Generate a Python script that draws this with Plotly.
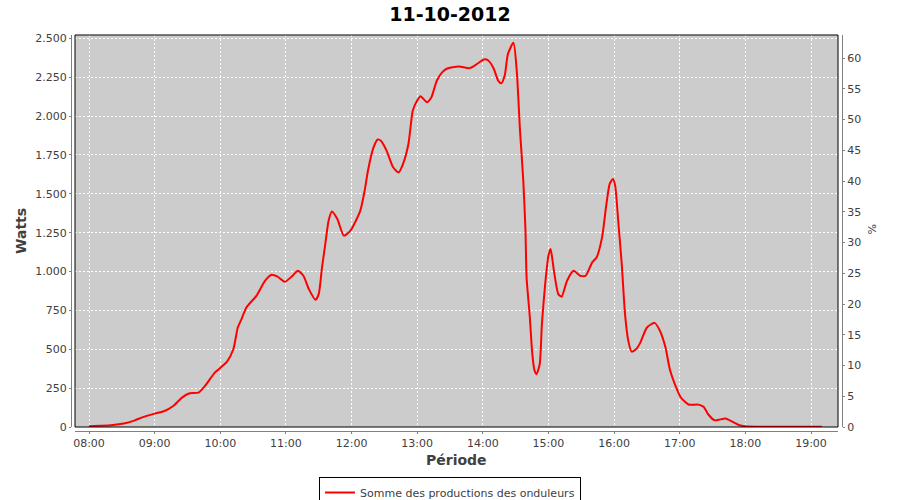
import plotly.graph_objects as go

DAY = "2012-10-11"
times = ["08:00", "08:10", "08:20", "08:33", "08:42", "08:48", "09:00", "09:09", "09:17", "09:25",
         "09:32", "09:40", "09:46", "09:55", "10:06", "10:12", "10:16", "10:19", "10:24", "10:33",
         "10:41", "10:47", "10:52", "10:59", "11:05", "11:11", "11:16", "11:21", "11:27", "11:30",
         "11:33", "11:36", "11:39", "11:42", "11:47", "11:53", "11:59", "12:08", "12:12", "12:15",
         "12:20", "12:24", "12:27", "12:32", "12:38", "12:43", "12:47", "12:52", "12:56", "13:00",
         "13:03", "13:09", "13:13", "13:18", "13:23", "13:27", "13:38", "13:48", "13:55", "14:01",
         "14:05", "14:10", "14:14", "14:17", "14:20", "14:23", "14:28", "14:31", "14:34", "14:37",
         "14:39", "14:40", "14:43", "14:45", "14:47", "14:49", "14:52", "14:54", "14:57", "15:00",
         "15:02", "15:05", "15:09", "15:12", "15:17", "15:23", "15:29", "15:34", "15:40", "15:44",
         "15:49", "15:53", "15:56", "15:59", "16:01", "16:04", "16:07", "16:10", "16:13", "16:16",
         "16:20", "16:24", "16:30", "16:37", "16:42", "16:47", "16:51", "16:57", "17:01", "17:08",
         "17:17", "17:22", "17:26", "17:32", "17:37", "17:42", "17:48", "17:54", "18:00", "18:10",
         "18:30", "19:00", "19:10"]
watts = [5, 8, 11, 24, 43, 60, 86, 103, 135, 189,
         217, 221, 264, 350, 419, 502, 640, 687, 770, 844,
         941, 980, 969, 934, 966, 1005, 973, 887, 818, 855,
         1027, 1177, 1327, 1387, 1338, 1231, 1263, 1392, 1521, 1649,
         1797, 1850, 1840, 1778, 1671, 1638, 1692, 1821, 2036, 2100,
         2128, 2090, 2122, 2229, 2283, 2305, 2320, 2309, 2337, 2365,
         2358, 2305, 2229, 2212, 2261, 2401, 2472, 2294, 1907, 1585,
         1263, 962, 704, 490, 372, 340, 404, 662, 919, 1102,
         1145, 1005, 855, 838, 941, 1005, 973, 973, 1059, 1091,
         1220, 1435, 1564, 1596, 1553, 1306, 1048, 726, 554, 485,
         500, 543, 640, 670, 618, 511, 370, 250, 190, 145,
         144, 129, 82, 43, 49, 54, 34, 13, 5, 2,
         2, 2, 2]
series_name = "Somme des productions des onduleurs"
title_text = "11-10-2012"

x_vals = [f"{DAY} {t}" for t in times]

W, H = 900, 500
# target pixel positions in the 900x500 window
PL, PR, PT, PB = 75, 838, 35, 427      # plot area border
AL, AR, AB = 71, 842, 431              # axis lines (offset 4px)

ml = AL
mr = W - AR
mt = PT
mb = H - AB
pw = W - ml - mr
ph = H - mt - mb
dx0 = (PL - AL) / pw
dx1 = (PR - AL) / pw
dy0 = (AB - PB) / ph


def px(X):
    return (X - AL) / pw


def py(Y):
    return (AB - Y) / ph


TICKFONT = dict(family="DejaVu Sans", size=11, color="#404040")

fig = go.Figure()
fig.add_trace(go.Scatter(
    x=x_vals, y=watts, mode="lines", name=series_name,
    line=dict(color="#FF0000", width=2, shape="spline", smoothing=0.6),
    xaxis="x", yaxis="y",
))
fig.add_trace(go.Scatter(x=[x_vals[0]], y=[0], mode="markers", marker=dict(opacity=0),
                         showlegend=False, hoverinfo="skip", yaxis="y2"))

fig.update_layout(
    width=W, height=H,
    margin=dict(l=ml, r=mr, t=mt, b=mb, autoexpand=False),
    paper_bgcolor="white",
    plot_bgcolor="#CCCCCC",
    separators=",.",
    title=dict(text=title_text, x=450 / W, xanchor="center", y=1 - 14 / H,
               yanchor="middle",
               font=dict(family="DejaVu Sans", size=19, color="black", weight="bold")),
    xaxis=dict(
        type="date", domain=[dx0, dx1], anchor="free", position=0,
        range=[f"{DAY} 07:47:12", f"{DAY} 19:24:41"],
        tick0=f"{DAY} 08:00", dtick=3600000, tickformat="%H:%M",
        showline=True, linecolor="#808080", linewidth=1,
        ticks="outside", ticklen=2, tickcolor="#808080",
        tickfont=TICKFONT,
        showgrid=True, gridcolor="white", gridwidth=1, griddash="2px,2px",
        zeroline=False,
    ),
    yaxis=dict(
        domain=[dy0, 1], anchor="free", position=0,
        range=[0, 2522], tick0=0, dtick=250, tickformat=",d",
        showline=True, linecolor="#808080", linewidth=1,
        ticks="outside", ticklen=2, tickcolor="#808080",
        tickfont=TICKFONT,
        showgrid=True, gridcolor="white", gridwidth=1, griddash="2px,2px",
        zeroline=False,
    ),
    yaxis2=dict(
        domain=[dy0, 1], anchor="free", position=1, overlaying="y", side="right",
        range=[0, 63.74], tick0=0, dtick=5,
        showline=True, linecolor="#808080", linewidth=1,
        ticks="outside", ticklen=2, tickcolor="#808080",
        tickfont=TICKFONT, showgrid=False, zeroline=False,
    ),
    showlegend=True,
    legend=dict(orientation="h", x=px(450), xanchor="center",
                y=py(477), yanchor="top",
                bordercolor="black", borderwidth=1, bgcolor="white",
                font=dict(family="DejaVu Sans", size=11, color="#404040"),
                itemwidth=30, tracegroupgap=0),
    shapes=[dict(type="rect", xref="paper", yref="paper", x0=dx0, x1=dx1, y0=dy0, y1=1,
                 line=dict(color="black", width=1), fillcolor="rgba(0,0,0,0)", layer="above")],
    annotations=[
        dict(text="Watts", xref="paper", yref="paper", x=px(21), y=py(231),
             xanchor="center", yanchor="middle", textangle=-90, showarrow=False,
             font=dict(family="DejaVu Sans", size=14, color="#404040", weight="bold")),
        dict(text="Période", xref="paper", yref="paper", x=px(456), y=py(460),
             xanchor="center", yanchor="middle", showarrow=False,
             font=dict(family="DejaVu Sans", size=14, color="#404040", weight="bold")),
        dict(text="%", xref="paper", yref="paper", x=px(872), y=py(229),
             xanchor="center", yanchor="middle", textangle=90, showarrow=False,
             font=dict(family="DejaVu Sans", size=11, color="#404040")),
    ],
)

fig.write_html("out.html", config={"displayModeBar": False},
               post_script="document.body.style.margin='0';")
